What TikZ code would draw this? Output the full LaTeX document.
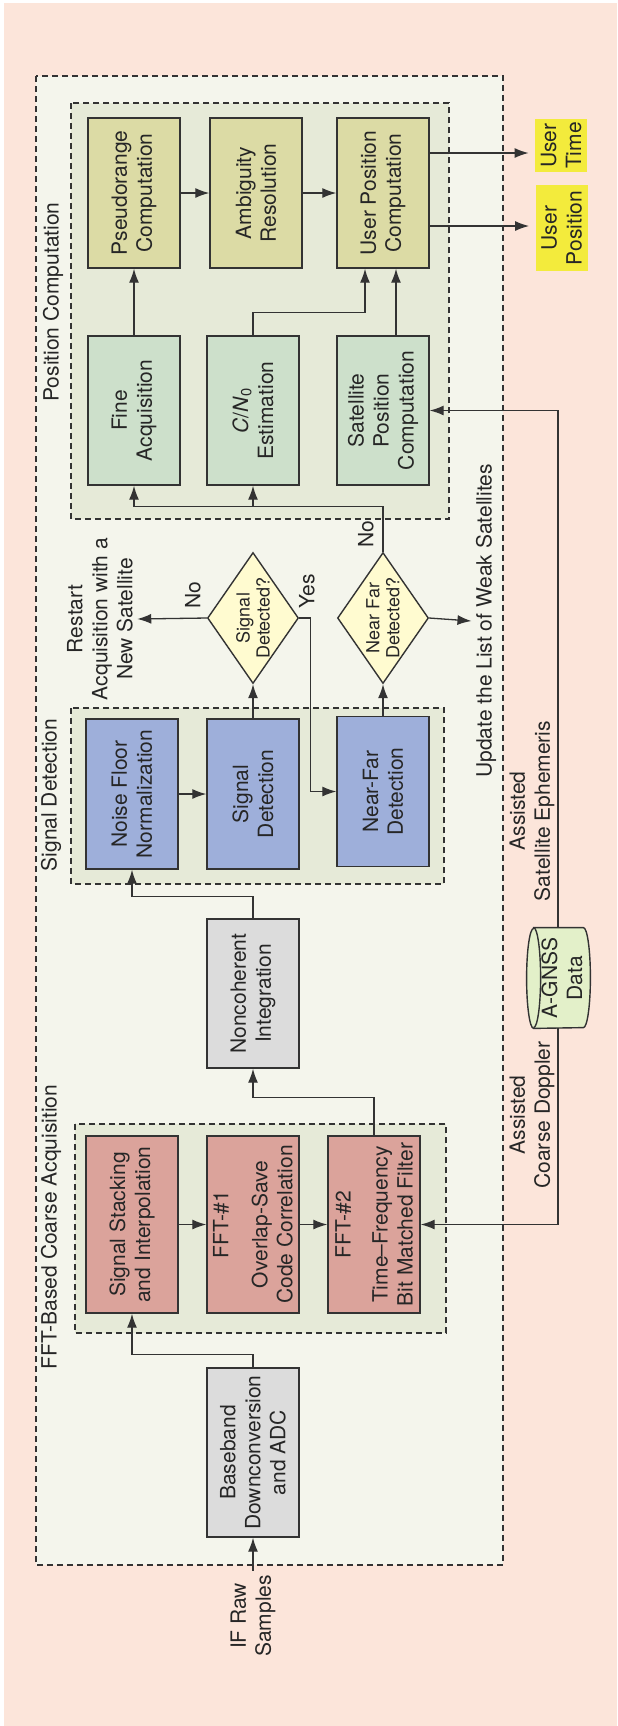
\documentclass[tikz,border=0pt]{standalone}
\usepackage{fontspec}
\setmainfont{TeX Gyre Heros}
\usepackage{xcolor}
\definecolor{bgPeach}{HTML}{FCE5DA}
\definecolor{outerFill}{HTML}{F4F5EC}
\definecolor{grpFill}{HTML}{E6EAD8}
\definecolor{fftRed}{HTML}{DBA39B}
\definecolor{detBlue}{HTML}{9EAFDA}
\definecolor{posGreen}{HTML}{CDE0CB}
\definecolor{posOlive}{HTML}{DCDBA5}
\definecolor{decYellow}{HTML}{FFFBD0}
\definecolor{boxGray}{HTML}{DCDCDC}
\definecolor{cylGreen}{HTML}{E3F0C9}
\definecolor{outYellow}{HTML}{F3EB3C}
\definecolor{lineDark}{HTML}{333333}
\usepackage{tikz}
\usetikzlibrary{arrows.meta,shapes.geometric,calc}
\newcommand{\boxfont}{\fontsize{10.5}{12.5}\selectfont}
\newcommand{\decfont}{\fontsize{9}{10}\selectfont}

\begin{document}
\begin{tikzpicture}[x=0.5pt, y=-0.5pt,
    every node/.style={font=\boxfont, text=black!85},
    blk/.style={draw=lineDark, line width=0.7pt, rotate=90, align=center,
                inner sep=1pt, minimum width=75pt, minimum height=46pt},
    fftblk/.style={blk, fill=fftRed, minimum width=88.5pt},
    detblk/.style={blk, fill=detBlue},
    posblk/.style={blk, fill=posGreen, minimum width=74.5pt},
    calcblk/.style={blk, fill=posOlive},
    grayblk/.style={blk, fill=boxGray},
    dec/.style={diamond, draw=lineDark, line width=0.7pt, fill=decYellow,
                minimum width=45.5pt, minimum height=65.5pt, inner sep=0pt},
    dectxt/.style={rotate=90, align=center, font=\decfont, inner sep=0pt},
    cylbody/.style={rotate=90, align=center, inner sep=0pt,
                    minimum width=50pt, minimum height=28pt},
    cylline/.style={draw=lineDark, line width=0.7pt},
    cylcap/.style={x radius=3.5pt, y radius=25pt},
    outlbl/.style={rotate=90, align=center, fill=outYellow, inner sep=1pt,
                   minimum height=26pt},
    lbl/.style={rotate=90, align=center, inner sep=2pt},
    grp/.style={draw=lineDark, line width=0.6pt, dash pattern=on 3pt off 2pt},
    arr/.style={-{Latex[length=7pt,width=5pt]}, draw=lineDark, line width=0.65pt}]
  \useasboundingbox (0,0) rectangle (617,1726);
  \fill[white] (0,0) rectangle (617,1726);
  \fill[bgPeach] (4,3) rectangle (617,1726);
  % dashed groups
  \filldraw[grp, fill=outerFill] (36,76) rectangle (503,1565);
  \filldraw[grp, fill=grpFill] (71,103) rectangle (449,519);
  \filldraw[grp, fill=grpFill] (71,708) rectangle (444,884);
  \filldraw[grp, fill=grpFill] (75,1124) rectangle (446,1333);
  \node[lbl] (poslbl) at (53,302) {Position Computation};
  \node[lbl] (detlbl) at (51,795) {Signal Detection};
  \node[lbl] (fftlbl) at (51,1227) {FFT-Based Coarse Acquisition};

  % acquisition chain
  \node[lbl] (ifraw) at (253,1616) {IF Raw\\Samples};
  \node[grayblk, minimum width=84.5pt] (base) at (253,1452.5)
       {Baseband\\Downconversion\\and ADC};
  \node[fftblk] (stack) at (132,1224.5) {Signal Stacking\\and Interpolation};
  \node[fftblk] (fft1) at (253,1224.5)
       {FFT-\#1\\[7pt]Overlap-Save\\Code Correlation};
  \node[fftblk] (fft2) at (374,1224.5)
       {FFT-\#2\\[6pt]Time--Frequency\\Bit Matched Filter};
  \node[grayblk, minimum width=74.5pt] (nonc) at (253,993.5)
       {Noncoherent\\Integration};

  % detection
  \node[detblk] (noise) at (132,794) {Noise Floor\\Normalization};
  \node[detblk] (sigdet) at (253,794) {Signal\\Detection};
  \node[detblk] (nfdet) at (383,791.5) {Near-Far\\Detection};
  \node[dec] (sigq) at (253,618) {};
  \node[dectxt] (sigqtxt) at (sigq) {Signal\\Detected?};
  \node[dec] (nfq) at (383,618) {};
  \node[dectxt] (nfqtxt) at (nfq) {Near Far\\Detected?};
  \node[lbl] (restart) at (100,619) {Restart\\Acquisition with a\\New Satellite};
  \node[lbl] (update) at (486,621) {Update the List of Weak Satellites};
  \node[lbl] (nosig) at (193,595) {No};
  \node[lbl] (yessig) at (307,591) {Yes};
  \node[lbl] (nonf) at (366,534) {No};

  % position computation
  \node[posblk] (fine) at (134,410.5) {Fine\\Acquisition};
  \node[posblk] (cn0) at (253,410.5)
       {\textit{C}/\textit{N}\textsubscript{0}\\Estimation};
  \node[posblk] (satpos) at (383,410.5) {Satellite\\Position\\Computation};
  \node[calcblk] (pseudo) at (134,193) {Pseudorange\\Computation};
  \node[calcblk] (amb) at (256,193) {Ambiguity\\Resolution};
  \node[calcblk] (upc) at (383,193) {User Position\\Computation};
  \node[outlbl, minimum width=26.5pt] (utime) at (561,145.5) {User\\Time};
  \node[outlbl, minimum width=43pt] (upos) at (561.5,228) {User\\Position};

  % assistance data (cylinder drawn round its body node)
  \node[cylbody] (agnss) at (562,978) {};
  \filldraw[cylline, fill=cylGreen] (agnss.north east)
       -- ([xshift=-3.5pt]agnss.south east) arc[start angle=90, end angle=-90, cylcap]
       -- (agnss.north west) arc[start angle=270, end angle=90, cylcap] -- cycle;
  \draw[cylline] (agnss.north east) arc[start angle=90, end angle=-90, cylcap];
  \node[cylbody] (agnsstxt) at (agnss) {A-GNSS\\Data};
  \node[lbl] (ephem) at (532,811) {Assisted\\Satellite Ephemeris};
  \node[lbl] (doppler) at (532,1115) {Assisted\\Coarse Doppler};

  % connectors
  \draw[arr] (ifraw.east) -- (base.west);
  \draw[arr] (base.east) -- ++(0,-13) -| (stack.west);
  \draw[arr] (stack.south) -- (fft1.north);
  \draw[arr] (fft1.south) -- (fft2.north);
  \draw[arr] (fft2.east) -- ++(0,-38) -| (nonc.west);
  \draw[arr] (nonc.east) -- ++(0,-22) -| (noise.west);
  \draw[arr] (noise.south) -- (sigdet.north);
  \draw[arr] (sigdet.east) -- (sigq.south);
  \draw[arr] (nfdet.east) -- (nfq.south);
  \draw[arr] (sigq.west) -- (restart.south);
  \draw[arr] (sigq.east) -- ++(11,0) |- (nfdet.north);
  \draw[arr] (nfq.east) -- (update.north);
  \draw[arr] (nfq.north) -- ++(0,-45) coordinate (fork) -| (fine.west);
  \draw[arr] (fork -| cn0.west) -- (cn0.west);
  \draw[arr] (fine.east) -- (pseudo.west);
  \draw[arr] (pseudo.south) -- (amb.north);
  \draw[arr] (amb.south) -- (upc.north);
  \draw[arr] (cn0.east) -- ++(0,-23) -| ([xshift=-9pt]upc.west);
  \draw[arr] ([xshift=6.5pt]satpos.east) -- ([xshift=6.5pt]upc.west);
  \coordinate (utimein) at ([yshift=20pt]upc.south);
  \coordinate (uposin) at ([yshift=-16.5pt]upc.south);
  \draw[arr, shorten >=3pt] (utimein) -- (utimein -| utime.north);
  \draw[arr, shorten >=3pt] (uposin) -- (uposin -| upos.north);
  \draw[arr] ([xshift=-2pt]agnss.east) |- (satpos.south);
  \draw[arr] ([xshift=-2pt]agnss.west) |- (fft2.south);
\end{tikzpicture}
\end{document}
